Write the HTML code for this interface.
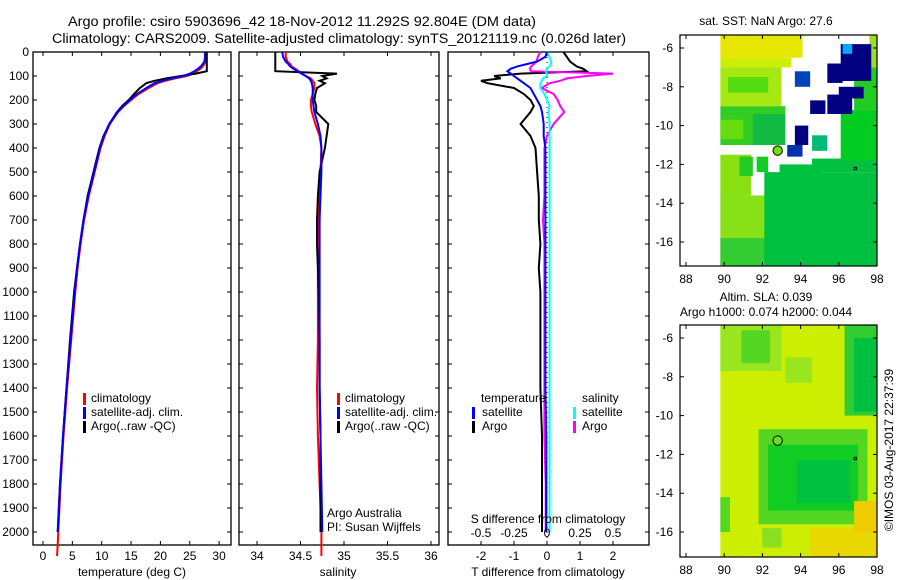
<!DOCTYPE html>
<html><head><meta charset="utf-8"><style>
html,body{margin:0;padding:0;background:#fff;}
svg{display:block;font-family:"Liberation Sans",sans-serif;}
text{fill:#000;}
</style></head><body>
<svg id="fig" width="900" height="580" viewBox="0 0 900 580" xmlns="http://www.w3.org/2000/svg">
<text x="68" y="26" font-size="13.5" textLength="468" lengthAdjust="spacingAndGlyphs">Argo profile: csiro 5903696_42 18-Nov-2012 11.292S 92.804E (DM data)</text>
<text x="52" y="43" font-size="13.5" textLength="574" lengthAdjust="spacingAndGlyphs">Climatology: CARS2009. Satellite-adjusted climatology: synTS_20121119.nc (0.026d later)</text>
<g id="layer"></g>
<text x="766" y="25" font-size="12" text-anchor="middle">sat. SST: NaN Argo: 27.6</text>
<text x="766" y="301" font-size="12" text-anchor="middle">Altim. SLA: 0.039</text>
<text x="766" y="316" font-size="12" text-anchor="middle">Argo h1000: 0.074 h2000: 0.044</text>
<text x="0" y="0" font-size="12" text-anchor="middle" transform="translate(893,450) rotate(-90)">©IMOS 03-Aug-2017 22:37:39</text>
</svg>
<script>
// ---- profile data ----
const depths = [0,20,40,50,60,70,80,90,100,110,120,130,150,175,200,225,250,300,350,400,500,600,700,800,900,1000,1200,1400,1600,1800,2000,2100];
const climT = [27.8,27.8,27.7,27.5,27.2,26.8,26.2,25.5,24.5,22.5,20.8,19.5,18.0,16.3,15.0,13.8,12.8,11.4,10.5,9.8,8.8,7.8,7.0,6.4,5.9,5.5,4.8,4.1,3.5,3.0,2.6,2.4];
const satT = [27.6,27.6,27.5,27.2,26.9,26.4,25.8,25.0,23.9,22.0,20.3,19.0,17.6,16.0,14.8,13.7,12.7,11.3,10.4,9.7,8.7,7.7,6.9,6.3,5.8,5.4,4.7,4.0,3.4,2.9,2.5,null];
const argoT = [27.9,27.9,27.9,27.9,27.9,27.9,27.9,26.0,23.5,21.0,19.0,17.6,16.5,15.5,14.6,13.5,12.6,11.3,10.3,9.6,8.6,7.6,6.9,6.3,5.8,5.3,4.6,4.0,3.4,2.9,2.5,null];
const climS = [34.33,34.33,34.35,34.38,34.40,34.44,34.48,34.52,34.56,34.62,34.64,34.66,34.66,34.64,34.62,34.62,34.63,34.67,34.72,34.74,34.73,34.72,34.71,34.70,34.70,34.70,34.70,34.69,34.70,34.72,34.74,34.74];
const satS = [34.29,34.30,34.33,34.36,34.38,34.42,34.46,34.51,34.56,34.60,34.62,34.63,34.64,34.64,34.64,34.65,34.66,34.70,34.73,34.74,34.74,34.73,34.72,34.72,34.72,34.72,34.72,34.72,34.73,34.74,34.75,null];
const argoS = [34.21,34.21,34.21,34.21,34.21,34.21,34.21,34.92,34.75,34.80,34.72,34.78,34.69,34.67,34.66,34.68,34.68,34.82,34.80,34.78,34.72,34.70,34.69,34.69,34.70,34.71,34.72,34.72,34.73,34.73,34.73,null];
const dTsat = [0,-0.05,-0.3,-0.6,-0.9,-1.1,-1.2,-1.1,-1.0,-0.9,-0.8,-0.7,-0.5,-0.4,-0.3,-0.2,-0.15,-0.1,-0.1,-0.05,-0.05,-0.05,-0.05,-0.05,-0.05,-0.05,-0.05,-0.05,-0.02,-0.02,-0.02,null];
const dTargo = [0.5,0.6,0.7,0.8,0.9,1.1,1.2,-0.8,-1.6,-1.4,-2.0,-1.8,-1.0,-0.7,-0.5,-0.4,-0.5,-0.8,-0.5,-0.35,-0.3,-0.25,-0.25,-0.2,-0.25,-0.2,-0.2,-0.2,-0.15,-0.15,-0.15,null];
const dSsat = [0,0.02,0.03,0.03,0.02,0.0,-0.01,0,0,-0.03,-0.04,-0.05,-0.05,-0.02,0,0.02,0.01,0.02,0.02,0.02,0.02,0.02,0.02,0.02,0.02,0.02,0.02,0.02,0.02,0.02,0.02,null];
const dSargo = [-0.05,-0.07,-0.08,-0.1,-0.12,-0.13,-0.12,0.5,0.3,0.15,0.1,0.02,-0.04,0.05,0.08,0.1,0.13,0.05,0,-0.02,-0.02,-0.02,-0.03,-0.02,-0.02,-0.02,-0.02,-0.02,-0.02,-0.01,-0.01,null];
const depthTicks = [0,100,200,300,400,500,600,700,800,900,1000,1100,1200,1300,1400,1500,1600,1700,1800,1900,2000];
const tempTicks = [0,5,10,15,20,25,30];
const salTicks = [34,34.5,35,35.5,36];
const dTTicks = [-2,-1,0,1,2];
const dSTicks = [-0.5,-0.25,0,0.25,0.5];
const dSTickLabels = ['-0.5','-0.25','0','0.25','0.5'];

const NS='http://www.w3.org/2000/svg';
const L=document.getElementById('layer');
function mk(tag,attrs,parent){const e=document.createElementNS(NS,tag);for(const k in attrs)e.setAttribute(k,attrs[k]);(parent||L).appendChild(e);return e;}
const yD = d => 52 + 0.24*d;
const xT = t => 43 + 5.87*t;
const xS = s => 257 + 87*(s-34);
const xdT = t => 547 + 33*t;
const xdS = s => 547 + 132*s;

function frame(x0,x1,name){
  const r=mk('rect',{x:x0,y:52,width:x1-x0,height:493,fill:'none',stroke:'#000','stroke-width':1.3});
  
  
  depthTicks.forEach(d=>{mk('line',{x1:x0,x2:x0+4,y1:yD(d),y2:yD(d),stroke:'#000'});mk('line',{x1:x1-4,x2:x1,y1:yD(d),y2:yD(d),stroke:'#000'});});
}
function line(xs,xf,color,name){
  const pts=[];depths.forEach((d,i)=>{if(xs[i]!==null)pts.push(xf(xs[i]).toFixed(1)+','+yD(d).toFixed(1));});
  const p=mk('polyline',{points:pts.join(' '),fill:'none',stroke:color,'stroke-width':2});
  
  
}
function xticks(vals,labels,xf,x0,x1,yl,top){
  vals.forEach((v,i)=>{const x=xf(v);
    mk('line',{x1:x,x2:x,y1:541,y2:545,stroke:'#000'});
    if(top)mk('line',{x1:x,x2:x,y1:52,y2:56,stroke:'#000'});
    const t=mk('text',{x:x,y:yl,'font-size':12,'text-anchor':'middle'});t.textContent=labels[i];
    
    
  });
}
function txt(x,y,s,name,anchor){const t=mk('text',{x:x,y:y,'font-size':12,'text-anchor':anchor||'start'});t.textContent=s;
  
  return t;}
function legbar(x,y,c){mk('rect',{x:x,y:y-5,width:3,height:12,fill:c});}

// depth labels
depthTicks.forEach(d=>{const t=txt(29,yD(d)+4,String(d),'y-tick-label','end');});

// Panel 1: temperature
frame(33,231,'temperature-panel');
xticks(tempTicks,tempTicks.map(String),xT,33,231,560,true);
line(climT,xT,'#f00','temperature-climatology-line');
line(argoT,xT,'#000','temperature-argo-line');
line(satT,xT,'#00f','temperature-satellite-line');
txt(132,576,'temperature (deg C)','temperature-axis-title','middle');
legbar(83,398,'#f00');txt(91,402,'climatology','legend-climatology');
legbar(83,412,'#00f');txt(91,416,'satellite-adj. clim.','legend-satellite-adj');
legbar(83,426,'#000');txt(91,430,'Argo(..raw -QC)','legend-argo');

// Panel 2: salinity
frame(239,439,'salinity-panel');
xticks(salTicks,['34','34.5','35','35.5','36'],xS,239,439,560,true);
line(climS,xS,'#f00','salinity-climatology-line');
line(argoS,xS,'#000','salinity-argo-line');
line(satS,xS,'#00f','salinity-satellite-line');
txt(338,576,'salinity','salinity-axis-title','middle');
legbar(337,398,'#f00');txt(345,402,'climatology','legend-climatology-s');
legbar(337,412,'#00f');txt(345,416,'satellite-adj. clim.','legend-satellite-adj-s');
legbar(337,426,'#000');txt(345,430,'Argo(..raw -QC)','legend-argo-s');
txt(327,517,'Argo Australia','pi-institution-label');
txt(327,531,'PI: Susan Wijffels','pi-name-label');

// Panel 3: differences
frame(448,649,'difference-panel');
mk('line',{x1:547,x2:547,y1:52,y2:545,stroke:'#000','stroke-dasharray':'1,4'});
dTTicks.forEach(v=>mk('line',{x1:xdT(v),x2:xdT(v),y1:52,y2:56,stroke:'#000'}));
line(dTargo,xdT,'#000','tdiff-argo-line');
line(dSargo,xdS,'#f0f','sdiff-argo-line');
line(dSsat,xdS,'#0ff','sdiff-satellite-line');
line(dTsat,xdT,'#00f','tdiff-satellite-line');
xticks(dTTicks,dTTicks.map(String),xdT,448,649,560,false);
dSTicks.forEach((v,i)=>{const t=txt(xdS(v),537,dSTickLabels[i],'s-tick-label','middle');});
txt(548,523,'S difference from climatology','sdiff-axis-title','middle');
txt(548,576,'T difference from climatology','tdiff-axis-title','middle');
txt(481,402,'temperature','legend-temperature-header');
legbar(472,412,'#00f');txt(482,416,'satellite','legend-t-satellite');
legbar(472,426,'#000');txt(482,430,'Argo','legend-t-argo');
txt(582,402,'salinity','legend-salinity-header');
legbar(573,412,'#0ff');txt(582,416,'satellite','legend-s-satellite');
legbar(573,426,'#f0f');txt(582,430,'Argo','legend-s-argo');

// ---- maps ----
const lonTicks=[88,90,92,94,96,98];
const latTicks=[-6,-8,-10,-12,-14,-16];
function mapAxes(top,bottom,y6,name){
  const mx = lon => 686 + (lon-88)*19.1;
  const my = lat => y6 + (-6-lat)*19.4;
  return {mx,my,top,bottom,name};
}
function drawMap(m,cells,circle){
  const g=mk('g',{});
  
  
  mk('rect',{x:680,y:m.top,width:197,height:m.bottom-m.top,fill:'#fff'},g);
  cells.forEach(c=>{
    const x=m.mx(c[0]),x2=m.mx(c[1]),y=m.my(c[2]),y2=m.my(c[3]);
    mk('rect',{x:Math.max(680,x),y:Math.max(m.top,y),width:Math.min(877,x2)-Math.max(680,x),height:Math.min(m.bottom,y2)-Math.max(m.top,y),fill:c[4]},g);
  });
  mk('circle',{cx:m.mx(92.8),cy:m.my(-11.29),r:4.7,fill:circle,stroke:'#000','stroke-width':1},g);
  mk('rect',{x:m.mx(96.85)-1,y:m.my(-12.2)-1,width:2.5,height:2.5,fill:'none',stroke:'#000','stroke-width':0.8},g);
  mk('rect',{x:680,y:m.top,width:197,height:m.bottom-m.top,fill:'none',stroke:'#000','stroke-width':1.2},g);
  lonTicks.forEach(l=>{const x=m.mx(l);mk('line',{x1:x,x2:x,y1:m.top,y2:m.top+4,stroke:'#000'},g);mk('line',{x1:x,x2:x,y1:m.bottom-4,y2:m.bottom,stroke:'#000'},g);
    const t=txt(x,m.bottom+17,String(l),'map-lon-label','middle');});
  latTicks.forEach(l=>{const y=m.my(l);mk('line',{x1:680,x2:684,y1:y,y2:y,stroke:'#000'},g);mk('line',{x1:873,x2:877,y1:y,y2:y,stroke:'#000'},g);
    const t=txt(673,y+4,String(l),'map-lat-label','end');});
}
// cells: [lon1, lon2, latTop, latBottom, colour]
const sstCells=[
 [89.8,94.1,-5.3,-6.5,'#e6e600'],[89.8,93.5,-6.5,-7.0,'#d0ec00'],
 [89.8,93.0,-7.0,-9.0,'#a6e812'],[90.2,92.3,-7.5,-8.3,'#55dd11'],
 [89.8,93.2,-9.0,-11.0,'#33cc22'],[91.5,93.2,-9.4,-11.0,'#11bb44'],[89.8,91.0,-9.7,-10.7,'#66dd11'],
 [89.8,91.4,-11.5,-13.6,'#88e010'],[90.8,91.5,-11.6,-12.6,'#22cc22'],[91.7,92.3,-11.6,-12.4,'#11cc22'],
 [89.8,92.2,-13.6,-17.3,'#88e018'],[89.8,92.2,-15.8,-17.3,'#33cc33'],
 [92.1,98.1,-12.4,-17.3,'#00c040'],[92.9,95.0,-12.0,-12.6,'#00c040'],[94.6,98.1,-11.7,-12.4,'#00c040'],
 [96.1,98.1,-9.2,-11.8,'#00cc22'],[96.8,98.1,-7.0,-9.2,'#22cc22'],[97.6,98.1,-5.3,-7.0,'#99e020'],
 [96.1,97.7,-5.8,-7.7,'#000080'],[95.4,96.2,-6.8,-7.8,'#000080'],[96.0,97.3,-8.0,-8.6,'#000080'],[95.4,96.7,-8.4,-9.4,'#000080'],
 [94.5,95.3,-8.7,-9.4,'#000080'],[93.7,94.4,-10.0,-11.0,'#000080'],[93.3,94.1,-11.0,-11.6,'#0033aa'],
 [93.7,94.5,-7.2,-8.0,'#0044bb'],[94.6,95.4,-10.5,-11.3,'#00bb77'],[96.2,96.7,-5.8,-6.3,'#00aaff']
];
const slaCells=[
 [89.8,98.1,-5.3,-17.3,'#ccee00'],
 [89.8,93.0,-5.3,-7.7,'#99e620'],[90.9,92.4,-5.6,-7.3,'#55d622'],
 [93.2,94.6,-7.0,-8.3,'#99e620'],
 [96.3,98.1,-5.3,-10.0,'#33cc33'],[96.8,98.1,-6.0,-9.8,'#00c040'],
 [91.8,97.5,-10.7,-15.6,'#55d622'],[92.3,97.0,-11.5,-14.9,'#11cc22'],[93.8,96.6,-12.3,-14.5,'#00c040'],
 [89.8,90.3,-14.2,-16.0,'#55d622'],[94.5,98.1,-15.8,-17.3,'#e8d800'],[96.8,98.1,-14.4,-16.0,'#eecc00'],
 [92.0,93.0,-15.8,-16.8,'#88e020']
];
drawMap(mapAxes(35,266,48,'sst-map'),sstCells,'#77dd00');
drawMap(mapAxes(325,557,338,'sla-map'),slaCells,'#66dd22');
</script>
</body></html>
